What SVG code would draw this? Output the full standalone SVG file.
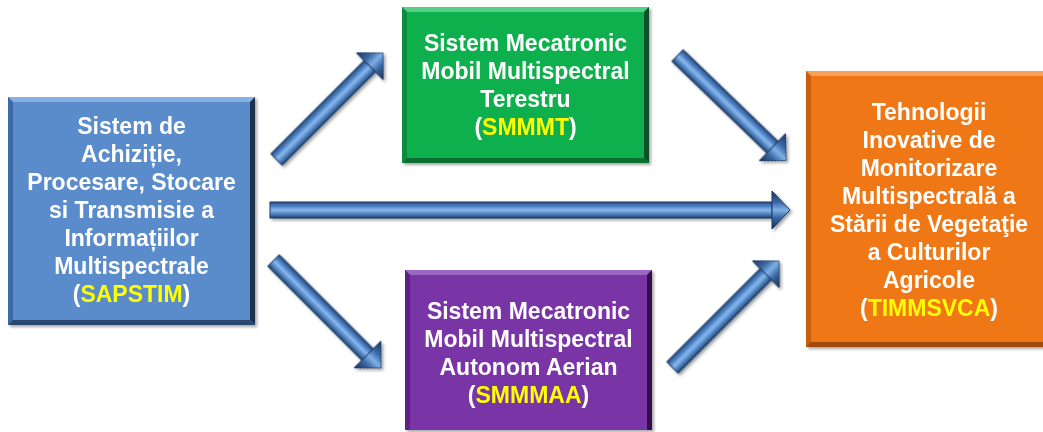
<svg xmlns="http://www.w3.org/2000/svg" width="1043" height="432" viewBox="0 0 1043 432">
  <defs>
    <style>
      .lbl { font-family: "Liberation Sans", Arial, sans-serif; font-weight: bold; font-size: 23px; fill: #ffffff; text-anchor: middle; }
      .acr { fill: #ffff00; }
      .arrow-shaft { fill: url(#shaftGrad); stroke: #1d3a62; stroke-width: 1; }
      .arrow-head { fill: url(#headGrad); stroke: #1d3a62; stroke-width: 1; stroke-linejoin: miter; }
    </style>
    <linearGradient id="shaftGrad" gradientUnits="userSpaceOnUse" x1="0" y1="-8" x2="0" y2="8">
      <stop offset="0" stop-color="#284a7c"/>
      <stop offset="0.3" stop-color="#5288cc"/>
      <stop offset="0.5" stop-color="#8ab9ec"/>
      <stop offset="0.75" stop-color="#4f82c2"/>
      <stop offset="1" stop-color="#21406a"/>
    </linearGradient>
    <linearGradient id="headGrad" gradientUnits="userSpaceOnUse" x1="0" y1="-19" x2="0" y2="19">
      <stop offset="0" stop-color="#1c3760"/>
      <stop offset="0.3" stop-color="#3a68a6"/>
      <stop offset="0.5" stop-color="#7fb0e6"/>
      <stop offset="0.7" stop-color="#3a68a6"/>
      <stop offset="1" stop-color="#182f52"/>
    </linearGradient>
    <filter id="soft" x="-10%" y="-10%" width="125%" height="125%">
      <feDropShadow dx="2" dy="2" stdDeviation="1.5" flood-color="#000000" flood-opacity="0.35"/>
    </filter>
  </defs>

  <!-- connectors -->
  <g id="connectors" filter="url(#soft)">
    <g id="arrow-sapstim-timmsvca" transform="translate(270,210)">
      <rect class="arrow-shaft" x="0" y="-8" width="502" height="16"/>
      <polygon class="arrow-head" points="502,-19 520,0 502,19"/>
    </g>
    <g id="arrow-sapstim-smmmt" transform="translate(276.5,159.5) rotate(-45)">
      <rect class="arrow-shaft" x="0" y="-8" width="133" height="16"/>
      <polygon class="arrow-head" points="132,-19 150.6,0 132,19"/>
    </g>
    <g id="arrow-smmmt-timmsvca" transform="translate(677.5,55.5) rotate(44)">
      <rect class="arrow-shaft" x="0" y="-8" width="133" height="16"/>
      <polygon class="arrow-head" points="132,-19 151,0 132,19"/>
    </g>
    <g id="arrow-sapstim-smmmaa" transform="translate(273.5,260.5) rotate(45)">
      <rect class="arrow-shaft" x="0" y="-8" width="134" height="16"/>
      <polygon class="arrow-head" points="133,-19 152,0 133,19"/>
    </g>
    <g id="arrow-smmmaa-timmsvca" transform="translate(672.5,367.5) rotate(-45)">
      <rect class="arrow-shaft" x="0" y="-8" width="133" height="16"/>
      <polygon class="arrow-head" points="132,-19 150.6,0 132,19"/>
    </g>
  </g>

  <!-- SAPSTIM -->
  <g id="node-sapstim" filter="url(#soft)">
    <rect x="8" y="97" width="247" height="228" fill="#5a8bca"/>
    <polygon points="8,97 255,97 250,102 13,102" fill="#86b0e2"/>
    <polygon points="8,97 13,102 13,320 8,325" fill="#3e6aa4"/>
    <polygon points="255,97 255,325 250,320 250,102" fill="#1c3250"/>
    <polygon points="8,325 13,320 250,320 255,325" fill="#2a4670"/>
    <text class="lbl" x="131.5" y="134">Sistem de</text>
    <text class="lbl" x="131.5" y="162">Achiziție,</text>
    <text class="lbl" x="131.5" y="190">Procesare, Stocare</text>
    <text class="lbl" x="131.5" y="218">si Transmisie a</text>
    <text class="lbl" x="131.5" y="246">Informațiilor</text>
    <text class="lbl" x="131.5" y="274">Multispectrale</text>
    <text class="lbl" x="131.5" y="302">(<tspan class="acr">SAPSTIM</tspan>)</text>
  </g>

  <!-- SMMMT -->
  <g id="node-smmmt" filter="url(#soft)">
    <rect x="402" y="7" width="247" height="156" fill="#10b04e"/>
    <polygon points="402,7 649,7 644,12 407,12" fill="#55cf84"/>
    <polygon points="402,7 407,12 407,158 402,163" fill="#0b8c3d"/>
    <polygon points="649,7 649,163 644,158 644,12" fill="#07512a"/>
    <polygon points="402,163 407,158 644,158 649,163" fill="#086e33"/>
    <text class="lbl" x="525.5" y="51">Sistem Mecatronic</text>
    <text class="lbl" x="525.5" y="79">Mobil Multispectral</text>
    <text class="lbl" x="525.5" y="107">Terestru</text>
    <text class="lbl" x="525.5" y="135">(<tspan class="acr">SMMMT</tspan>)</text>
  </g>

  <!-- SMMMAA -->
  <g id="node-smmmaa" filter="url(#soft)">
    <rect x="405" y="270" width="247" height="160" fill="#7934a6"/>
    <polygon points="405,270 652,270 647,275 410,275" fill="#9a68c2"/>
    <polygon points="405,270 410,275 410,430 405,430" fill="#5e2284"/>
    <polygon points="652,270 652,430 647,430 647,275" fill="#341048"/>
    <text class="lbl" x="528.5" y="319">Sistem Mecatronic</text>
    <text class="lbl" x="528.5" y="347">Mobil Multispectral</text>
    <text class="lbl" x="528.5" y="375">Autonom Aerian</text>
    <text class="lbl" x="528.5" y="403">(<tspan class="acr">SMMMAA</tspan>)</text>
  </g>

  <!-- TIMMSVCA -->
  <g id="node-timmsvca" filter="url(#soft)">
    <rect x="806" y="71" width="250" height="276" fill="#f07714"/>
    <polygon points="806,71 1056,71 1051,76 811,76" fill="#f5a15a"/>
    <polygon points="806,71 811,76 811,342 806,347" fill="#c95e0c"/>
    <polygon points="806,347 811,342 1051,342 1056,347" fill="#a04b08"/>
    <text class="lbl" x="929" y="120">Tehnologii</text>
    <text class="lbl" x="929" y="148">Inovative de</text>
    <text class="lbl" x="929" y="176">Monitorizare</text>
    <text class="lbl" x="929" y="204">Multispectrală a</text>
    <text class="lbl" x="929" y="232">Stării de Vegetaţie</text>
    <text class="lbl" x="929" y="260">a Culturilor</text>
    <text class="lbl" x="929" y="288">Agricole</text>
    <text class="lbl" x="929" y="316">(<tspan class="acr">TIMMSVCA</tspan>)</text>
  </g>
</svg>
